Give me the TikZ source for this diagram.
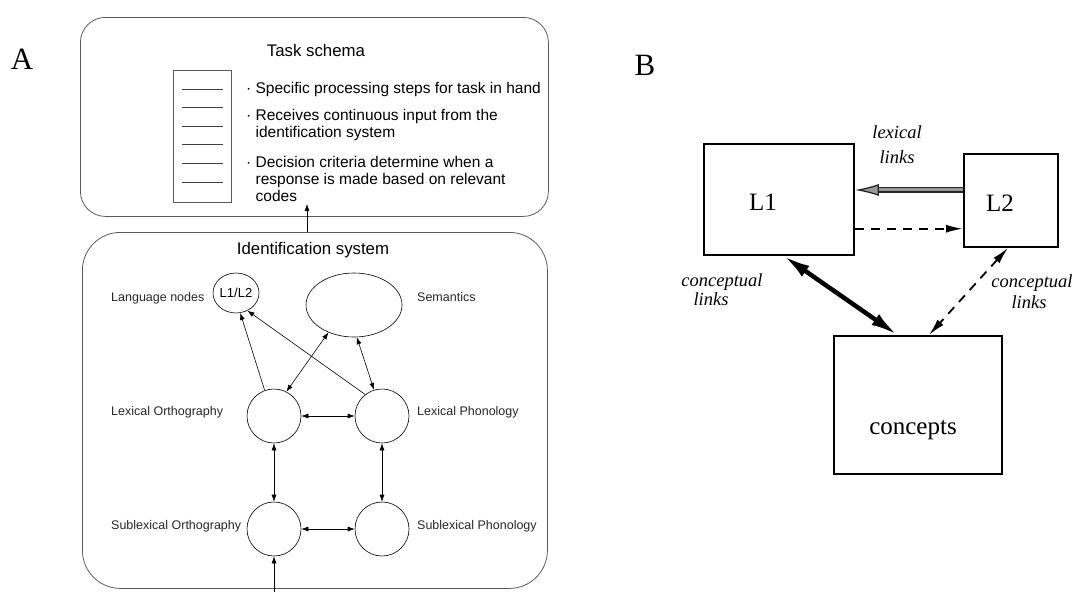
\documentclass[tikz,border=0pt]{standalone}
\usepackage{fontspec}
\setmainfont{Liberation Serif}
\setsansfont{Liberation Sans}
\usepackage{tikz}
\usetikzlibrary{shapes.geometric, positioning, calc, arrows.meta}

\begin{document}
\begin{tikzpicture}[x=1pt, y=-1pt,
        roundbox/.style={draw=black!65, line width=0.8pt, rounded corners=#1, anchor=north west},
        unit/.style={circle, draw, line width=0.6pt, minimum size=54pt, inner sep=0pt},
        lbl/.style={font=\sffamily\fontsize{12.5}{14}\selectfont, anchor=west, inner sep=0pt, text=black!85},
        bullet/.style={font=\sffamily\fontsize{15.5}{17}\selectfont, anchor=west, align=left, inner sep=0pt},
        title/.style={font=\sffamily\fontsize{16.8}{19}\selectfont, inner sep=0pt},
        small/.style={line width=0.6pt, -{Latex[length=7pt,width=5pt]}},
        both/.style={line width=0.6pt, {Latex[length=7pt,width=5pt]}-{Latex[length=7pt,width=5pt]}},
        langbox/.style={draw, line width=1.8pt, anchor=north west, inner sep=0pt},
        big/.style={font=\fontsize{25}{28}\selectfont, inner sep=0pt},
        ital/.style={font=\itshape\fontsize{18.5}{20}\selectfont, inner sep=0pt},
        panel/.style={font=\fontsize{31}{34}\selectfont, inner sep=0pt}]
    \useasboundingbox (0,0) rectangle (1075,592);

    % Panel letters
    \node[panel] (pa) at (22,59) {A};
    \node[panel] (pb) at (645,65) {B};

    % Task schema
    \node[roundbox=25pt, minimum width=468pt, minimum height=199pt] (task) at (80,17) {};
    \node[title] (tasktitle) at (316,50) {Task schema};
    \node[draw=black!65, line width=0.8pt, anchor=north west, minimum width=58pt, minimum height=132pt] (list) at (173,70) {};
    \foreach \y in {89,107,126,144,163,182}
        \draw[black!75, line width=0.8pt] (182,\y) -- (223,\y);
    \node[bullet] (b1) at (246,89) {· Specific processing steps for task in hand};
    \node[bullet] (b2) at (246,125) {· Receives continuous input from the\\\hphantom{· }identification system};
    \node[bullet] (b3) at (246,179) {· Decision criteria determine when a\\\hphantom{· }response is made based on relevant\\\hphantom{· }codes};

    % Identification system
    \node[roundbox=38pt, minimum width=465pt, minimum height=356pt] (idbox) at (82,232) {};
    \node[title] (idtitle) at (313,250) {Identification system};
    \coordinate (codes) at (307,204);
    \draw[small] (idbox.north -| codes) -- (codes);

    \node[ellipse, draw, line width=0.6pt, minimum width=44pt, minimum height=40pt, inner sep=0pt,
          font=\sffamily\fontsize{13}{15}\selectfont] (lang) at (236,293) {L1/L2};
    \node[ellipse, draw, line width=0.6pt, minimum width=96pt, minimum height=64pt] (sem) at (354,305) {};
    \node[unit] (lo) at (274,416) {};
    \node[unit] (lp) at (382,416) {};
    \node[unit] (so) at (274,529) {};
    \node[unit] (sp) at (382,529) {};

    \foreach \x/\y/\name/\text in {111/298/langlbl/Language nodes, 417/297/semlbl/Semantics,
            111/412/lolbl/Lexical Orthography, 417/412/lplbl/Lexical Phonology,
            111/526/solbl/Sublexical Orthography, 417/526/splbl/Sublexical Phonology}
        \node[lbl] (\name) at (\x,\y) {\text};

    \draw[small] (lo.110) -- (lang.-78);
    \draw[small] (lp.128) -- (lang.-57);
    \draw[both] (lo.63) -- (sem.-133);
    \draw[both] (lp.107) -- (sem.-85);
    \draw[both] (lo) -- (lp);
    \draw[both] (so) -- (sp);
    \draw[both] (lo) -- (so);
    \draw[both] (lp) -- (sp);
    \coordinate (input) at (274,592);
    \draw[small] (input) -- (so);

    % Panel B
    \node[langbox, minimum width=150pt, minimum height=111pt] (l1) at (703,143) {};
    \node[big] (l1text) at (763,202) {L1};
    \node[langbox, minimum width=94pt, minimum height=93pt] (l2) at (963,153) {};
    \node[big] (l2text) at (1000,203) {L2};
    \node[langbox, minimum width=168pt, minimum height=138pt] (conc) at (833,335) {};
    \node[big] (conctext) at (913,430) {concepts};

    \draw[draw=black!85, double=black!40, double distance=3pt, line width=1.3pt,
          -{Latex[length=24pt,width=12pt,fill=black!40]}]
        ($(l2.north west)!0.39!(l2.south west)$) coordinate (lx) -- (lx -| l1.east);
    \draw[line width=1.8pt, dash pattern=on 9pt off 7pt, -{Latex[length=17pt,width=8pt]}]
        ($(l1.north east)!0.76!(l1.south east)$) coordinate (dx) -- (dx -| l2.west);
    \draw[line width=4.5pt, {Latex[length=27pt,width=13pt]}-{Latex[length=27pt,width=13pt]}]
        ($(l1.south west)!0.53!(l1.south east)$) -- ($(conc.north west)!0.38!(conc.north east)$);
    \draw[line width=1.8pt, dash pattern=on 9pt off 7pt, {Latex[length=17pt,width=8pt]}-{Latex[length=17pt,width=8pt]}]
        ($(l2.south west)!0.47!(l2.south east)$) -- ($(conc.north west)!0.565!(conc.north east)$);

    \node[ital] (lexlbl1) at (897,132) {lexical};
    \node[ital] (lexlbl2) at (897,157) {links};
    \node[ital] (conlbl1) at (722,282) {conceptual};
    \node[ital] (conlbl2) at (711,299) {links};
    \node[ital] (conlbl3) at (1032,283) {conceptual};
    \node[ital] (conlbl4) at (1029,302) {links};
\end{tikzpicture}
\end{document}
